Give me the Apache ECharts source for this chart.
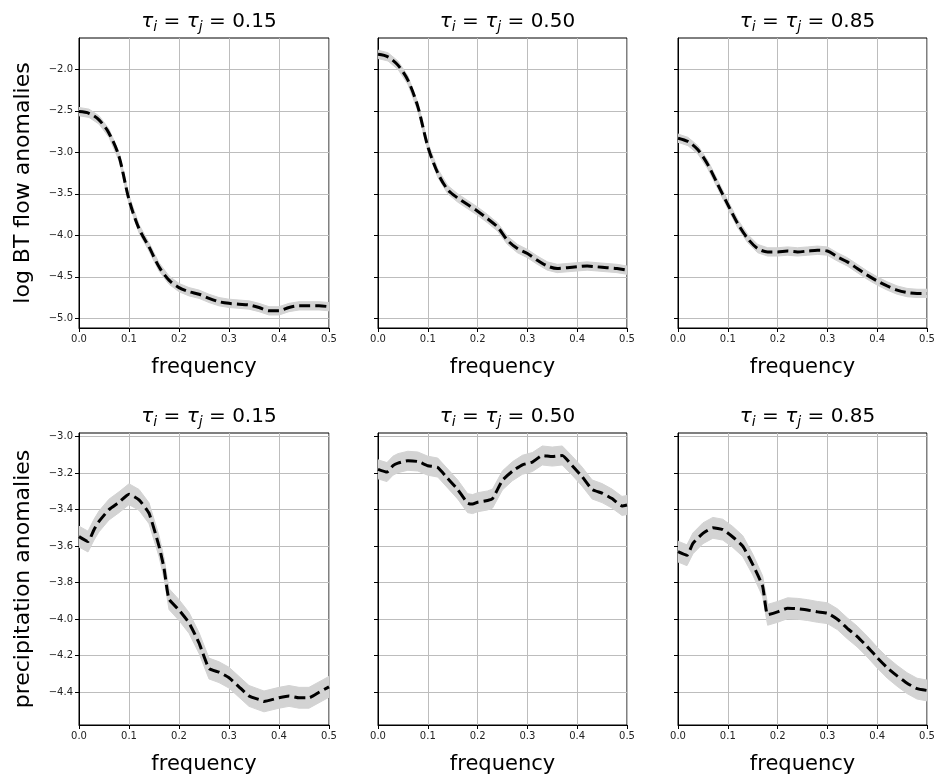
<!DOCTYPE html>
<html lang="en">
<head>
<meta charset="UTF-8">
<title>Spectra by quantile level</title>
<script src="https://cdn.jsdelivr.net/npm/echarts@6/dist/echarts.min.js"></script>
<style>
    html, body, #chart {
        width: 938px;
        height: 780px;
        margin: 0;
        padding: 0;
        background: #fff;
    }
</style>
</head>
<body>
<div id="chart"></div>
<script>
    var tauLabels = ["0.15", "0.50", "0.85"];
    var rowNames = ["log BT flow anomalies", "precipitation anomalies"];
    var xTicks = [0, 0.1, 0.2, 0.3, 0.4, 0.5];
    var yTicksTop = [-5.0, -4.5, -4.0, -3.5, -3.0, -2.5, -2.0];
    var yTicksBottom = [-4.4, -4.2, -4.0, -3.8, -3.6, -3.4, -3.2, -3.0];
    var yRangeTop = [-5.117, -1.623];
    var yRangeBottom = [-4.579, -2.981];

    // top row: log BT flow anomalies
    var freqTop = [0, 0.02, 0.04, 0.06, 0.08, 0.10, 0.12, 0.14, 0.16, 0.18, 0.20, 0.22, 0.24,
        0.26, 0.28, 0.30, 0.32, 0.34, 0.36, 0.38, 0.40, 0.42, 0.44, 0.46, 0.48, 0.50];
    var flow15 = [-2.51, -2.53, -2.61, -2.77, -3.05, -3.57, -3.92, -4.14, -4.38, -4.54, -4.63, -4.68, -4.71,
        -4.76, -4.80, -4.82, -4.83, -4.84, -4.87, -4.91, -4.91, -4.87, -4.85, -4.85, -4.85, -4.86];
    var flow50 = [-1.82, -1.85, -1.95, -2.13, -2.45, -2.93, -3.25, -3.45, -3.55, -3.63, -3.71, -3.80, -3.90,
        -4.06, -4.16, -4.22, -4.30, -4.37, -4.40, -4.39, -4.38, -4.37, -4.38, -4.39, -4.40, -4.42];
    var flow85 = [-2.83, -2.87, -2.97, -3.15, -3.39, -3.63, -3.86, -4.04, -4.16, -4.20, -4.20, -4.19, -4.20,
        -4.19, -4.18, -4.19, -4.26, -4.32, -4.40, -4.48, -4.55, -4.61, -4.66, -4.69, -4.70, -4.70];

    // bottom row: precipitation anomalies
    var freqPrec15 = [0, 0.018, 0.03, 0.04, 0.06, 0.08, 0.10, 0.12, 0.14, 0.16, 0.17, 0.18, 0.20, 0.22,
        0.24, 0.26, 0.28, 0.30, 0.32, 0.34, 0.36, 0.37, 0.40, 0.42, 0.44, 0.46, 0.48, 0.50];
    var prec15 = [-3.548, -3.575, -3.51, -3.465, -3.40, -3.36, -3.316, -3.347, -3.42, -3.60, -3.72, -3.89, -3.95, -4.02,
        -4.13, -4.27, -4.29, -4.32, -4.37, -4.42, -4.44, -4.45, -4.43, -4.42, -4.43, -4.43, -4.40, -4.37];
    var freqPrec50 = [0, 0.018, 0.03, 0.04, 0.06, 0.08, 0.10, 0.12, 0.14, 0.16, 0.18, 0.19, 0.20, 0.22, 0.23,
        0.25, 0.27, 0.29, 0.31, 0.33, 0.35, 0.37, 0.39, 0.41, 0.43, 0.45, 0.47, 0.49, 0.50];
    var prec50 = [-3.18, -3.195, -3.16, -3.146, -3.133, -3.137, -3.16, -3.17, -3.23, -3.29, -3.365, -3.37, -3.36, -3.35, -3.34,
        -3.24, -3.19, -3.155, -3.14, -3.104, -3.11, -3.104, -3.16, -3.22, -3.29, -3.31, -3.34, -3.38, -3.375];
    var freqPrec85 = [0, 0.018, 0.03, 0.05, 0.07, 0.09, 0.11, 0.13, 0.15, 0.17, 0.18, 0.20, 0.22, 0.24,
        0.26, 0.28, 0.30, 0.32, 0.34, 0.36, 0.38, 0.40, 0.42, 0.44, 0.46, 0.48, 0.50];
    var prec85 = [-3.63, -3.65, -3.585, -3.53, -3.50, -3.51, -3.55, -3.60, -3.70, -3.82, -3.976, -3.96, -3.94, -3.943,
        -3.95, -3.96, -3.967, -4.00, -4.05, -4.095, -4.15, -4.21, -4.265, -4.31, -4.35, -4.38, -4.39];

    // half width of the grey confidence band, one per panel
    var bandHalf = [0.05, 0.05, 0.05, 0.057, 0.052, 0.057];

    var panels = [
        {freq: freqTop, vals: flow15},
        {freq: freqTop, vals: flow50},
        {freq: freqTop, vals: flow85},
        {freq: freqPrec15, vals: prec15},
        {freq: freqPrec50, vals: prec50},
        {freq: freqPrec85, vals: prec85}
    ];

    var FONT = "DejaVu Sans";
    var colLeft = [79, 378, 678];
    var colWidth = [250, 249, 249];
    var rowTop = [38, 433];
    var rowHeight = [290, 292];

    function fmtMinus(v, digits) {
        var s = Math.abs(v).toFixed(digits);
        return v < 0 ? "\u2212" + s : s;
    }

    // grey band: one polygon through the lower edge and back along the upper edge
    function bandRenderer(rows) {
        return function (params, api) {
            if (params.dataIndex !== 0) return null;
            var pts = [];
            for (var k = 0; k < rows.length; k++) {
                pts.push(api.coord([rows[k][0], rows[k][1]]));
            }
            for (var m = rows.length - 1; m >= 0; m--) {
                pts.push(api.coord([rows[m][0], rows[m][2]]));
            }
            return {
                type: "polygon",
                shape: {points: pts, smooth: 0},
                style: {fill: "#d3d3d3", stroke: "#d3d3d3", lineWidth: 1}
            };
        };
    }

    var chart = echarts.init(document.getElementById("chart"), null, {renderer: "canvas"});

    var grids = [], xAxes = [], yAxes = [], titles = [], series = [];

    for (var i = 0; i < 6; i++) {
        var r = Math.floor(i / 3), c = i % 3;
        grids.push({
            left: colLeft[c], top: rowTop[r], width: colWidth[c], height: rowHeight[r],
            show: true, borderColor: "#000", borderWidth: 1, backgroundColor: "#fff"
        });
        xAxes.push({
            type: "value", gridIndex: i, min: 0, max: 0.5, interval: 0.1,
            name: "frequency", nameLocation: "middle", nameGap: 29,
            nameTextStyle: {fontFamily: FONT, fontSize: 21, color: "#000"},
            axisLine: {show: true, lineStyle: {color: "#000", width: 1}},
            axisTick: {show: true, length: 4, lineStyle: {color: "#000"}},
            axisLabel: {
                fontFamily: FONT, fontSize: 10, color: "#222", margin: 6,
                formatter: function (v) { return v.toFixed(1); }
            },
            splitLine: {show: true, lineStyle: {color: "#bdbdbd", width: 1}}
        });
        var ticks = r === 0 ? yTicksTop : yTicksBottom;
        var rng = r === 0 ? yRangeTop : yRangeBottom;
        yAxes.push({
            type: "value", gridIndex: i, min: rng[0], max: rng[1],
            name: c === 0 ? rowNames[r] : "", nameLocation: "middle", nameGap: 45,
            nameTextStyle: {fontFamily: FONT, fontSize: 22, color: "#000"},
            axisLine: {show: true, lineStyle: {color: "#000", width: 1}},
            axisTick: {show: true, length: 4, customValues: ticks, lineStyle: {color: "#000"}},
            axisLabel: {
                show: c === 0, customValues: ticks,
                fontFamily: FONT, fontSize: 10, color: "#222", margin: 6,
                formatter: function (v) { return fmtMinus(v, 1); }
            },
            splitLine: {show: true, lineStyle: {color: "#bdbdbd", width: 1}}
        });
        titles.push({
            text: "{t|\u03c4}{s|i}{e| = }{t|\u03c4}{s|j}{e| = " + tauLabels[c] + "}",
            left: colLeft[c] + colWidth[c] / 2,
            textAlign: "center",
            top: rowTop[r] - 34,
            textStyle: {
                fontFamily: FONT, fontSize: 20, color: "#000", fontWeight: "normal",
                rich: {
                    t: {fontFamily: FONT, fontSize: 20, fontStyle: "italic", color: "#000"},
                    e: {fontFamily: FONT, fontSize: 20, color: "#000"},
                    s: {fontFamily: FONT, fontSize: 14, fontStyle: "italic", color: "#000", padding: [11, 0, 0, 0]}
                }
            }
        });

        var p = panels[i];
        var band = [], line = [];
        for (var k = 0; k < p.freq.length; k++) {
            band.push([p.freq[k], p.vals[k] - bandHalf[i], p.vals[k] + bandHalf[i]]);
            line.push([p.freq[k], p.vals[k]]);
        }
        series.push({
            type: "custom", xAxisIndex: i, yAxisIndex: i, data: band,
            encode: {x: 0, y: [1, 2]}, clip: true, silent: true, z: 1,
            renderItem: bandRenderer(band)
        });
        series.push({
            type: "line", xAxisIndex: i, yAxisIndex: i, data: line,
            smooth: r === 0 ? 0.3 : 0.15,
            symbol: "none", lineStyle: {color: "#000", width: 3, type: [11, 5]}, z: 3
        });
    }

    chart.setOption({
        animation: false,
        title: titles,
        grid: grids,
        xAxis: xAxes,
        yAxis: yAxes,
        series: series
    });
</script>
</body>
</html>
